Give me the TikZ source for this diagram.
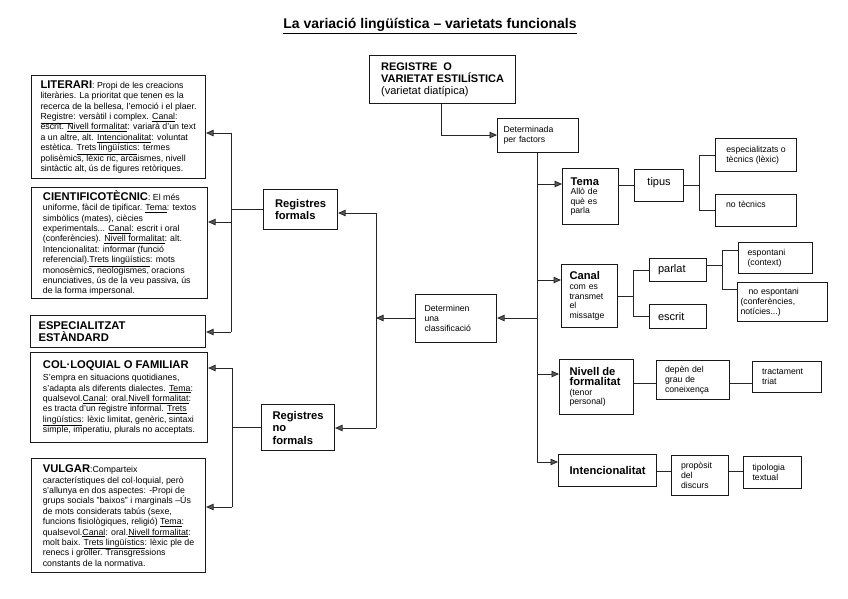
\documentclass[tikz,border=0pt]{standalone}
\usepackage{fontspec}
\setmainfont{Liberation Sans}
\usetikzlibrary{arrows.meta}
\newcommand\fBody{\fontsize{8.8}{10.4}\selectfont}
\newcommand\fHead{\fontsize{11.2}{12.5}\selectfont\bfseries}
\newcommand\fSmall{\fontsize{8.7}{10}\selectfont}
\newcommand\fMid{\fontsize{11}{12}\selectfont}
\newcommand\uln[1]{\underline{#1}}
\begin{document}
\begin{tikzpicture}[x=1pt,y=-1pt,
  box/.style={draw=black!90, line width=1.1pt, inner sep=0pt, anchor=north west, align=left},
  conn/.style={line width=0.8pt, draw=black!85},
  arr/.style={conn, -{Triangle[length=7.5pt,width=6.5pt,fill=black!65]}}]
\useasboundingbox (0,0) rectangle (848,599);
\fill[white] (0,0) rectangle (848,599);

\node (title) at (430,26) {\fontsize{14}{16}\selectfont\bfseries\underline{La variació lingüística – varietats funcionals}};

% ---------- left boxes ----------
\node[box, font=\fBody, minimum width=174pt, minimum height=103pt] (lit) at (31,75) {%
{\fHead LITERARI}: Propi de les creacions\\
literàries. La prioritat que tenen es la\\
recerca de la bellesa, l'emoció i el plaer.\\
\uln{Registre}: versàtil i complex. \uln{Canal}:\\
escrit. \uln{Nivell formalitat}: variarà d'un text\\
a un altre, alt. \uln{Intencionalitat}: voluntat\\
estètica. \uln{Trets lingüístics}: termes\\
polisèmics, lèxic ric, arcaismes, nivell\\
sintàctic alt, ús de figures retòriques.};

\node[box, font=\fBody, minimum width=176pt, minimum height=111pt] (cie) at (31,187) {%
{\fHead CIENTIFICOTÈCNIC}: El més\\
uniforme, fàcil de tipificar. \uln{Tema}: textos\\
simbòlics (mates), ciècies\\
experimentals... \uln{Canal}: escrit i oral\\
(conferències). \uln{Nivell formalitat}: alt.\\
Intencionalitat: informar (funció\\
referencial).\uln{Trets lingüístics}: mots\\
monosèmics, neologismes, oracions\\
enunciatives, ús de la veu passiva, ús\\
de la forma impersonal.};

\node[box, font=\fHead, minimum width=175pt, minimum height=32pt, text width=159pt] (esp) at (30,315) {ESPECIALITZAT\\ESTÀNDARD};

\node[box, font=\fBody, minimum width=177pt, minimum height=90pt] (col) at (30,352) {%
{\fHead COL·LOQUIAL O FAMILIAR}\\[2pt]
S'empra en situacions quotidianes,\\
s'adapta als diferents dialectes. \uln{Tema}:\\
qualsevol.\uln{Canal}: oral.\uln{Nivell formalitat}:\\
es tracta d'un registre informal. \uln{Trets}\\
\uln{lingüístics}: lèxic limitat, genèric, sintaxi\\
simple, imperatiu, plurals no acceptats.};

\node[box, font=\fBody, minimum width=174pt, minimum height=114pt] (vul) at (31,458) {%
{\fHead VULGAR}:Comparteix\\
característiques del col·loquial, però\\
s'allunya en dos aspectes: -Propi de\\
grups socials "baixos" i marginals –Ús\\
de mots considerats tabús (sexe,\\
funcions fisiològiques, religió) \uln{Tema}:\\
qualsevol.\uln{Canal}: oral.\uln{Nivell formalitat}:\\
molt baix. \uln{Trets lingüístics}: lèxic ple de\\
renecs i groller. Transgressions\\
constants de la normativa.};

% ---------- middle ----------
\node[box, font=\fHead, minimum width=74pt, minimum height=40pt] (regf) at (263,189) {Registres\\formals};
\node[box, font=\fHead, minimum width=73pt, minimum height=46pt] (regn) at (261,404) {Registres\\no\\formals};
\node[box, font=\fSmall, minimum width=81pt, minimum height=48pt, text width=63pt] (detn) at (415,294) {Determinen\\una\\classificació};

\node[box, font=\fMid, minimum width=146pt, minimum height=48pt] (reg) at (369,55) {{\bfseries REGISTRE\ \ O}\\{\bfseries VARIETAT ESTILÍSTICA}\\(varietat diatípica)};
\node[box, font=\fSmall, minimum width=81pt, minimum height=34pt, text width=69pt] (detf) at (497,118) {Determinada\\per factors};

% ---------- right ----------
\node[box, font=\fontsize{8.7}{9.3}\selectfont, minimum width=56pt, minimum height=56pt, text width=40pt] (tema) at (562,168) {{\fHead Tema}\\Allò de\\què es\\parla};
\node[box, font=\fMid, minimum width=49pt, minimum height=32pt, text depth=8pt] (tipus) at (634,169) {tipus};
\node[box, font=\fSmall, minimum width=81pt, minimum height=33pt] (espt) at (715,138) {especialitzats o\\tècnics (lèxic)};
\node[box, font=\fSmall, minimum width=81pt, minimum height=32pt, text width=60pt, text depth=12pt] (notec) at (715,194) {no tècnics};

\node[box, font=\fontsize{8.7}{9.7}\selectfont, minimum width=56pt, minimum height=63pt, text width=40pt] (canal) at (561,264) {{\fHead Canal}\\com es\\transmet\\el\\missatge};
\node[box, font=\fMid, minimum width=57pt, minimum height=23pt, text width=40pt] (parlat) at (649,258) {parlat};
\node[box, font=\fMid, minimum width=57pt, minimum height=24pt, text width=40pt] (escrit) at (649,304) {escrit};
\node[box, font=\fSmall, minimum width=74pt, minimum height=31pt, text width=56pt] (espon) at (738,242) {espontani\\(context)};
\node[box, font=\fSmall, minimum width=90pt, minimum height=39pt, text width=84pt] (noesp) at (737,282) {\hspace{8pt}no espontani\\(conferències,\\notícies...)};

\node[box, font=\fontsize{8.7}{9.7}\selectfont, minimum width=74pt, minimum height=55pt, text width=54pt] (niv) at (559,359) {{\fHead Nivell de}\\{\fHead formalitat}\\(tenor\\personal)};
\node[box, font=\fSmall, minimum width=73pt, minimum height=39pt, text width=56pt] (depen) at (656,360) {depèn del\\grau de\\coneixença};
\node[box, font=\fSmall, minimum width=69pt, minimum height=31pt, text width=50pt] (tract) at (752,361) {tractament\\triat};

\node[box, font=\fHead, minimum width=98pt, minimum height=32pt] (inten) at (558,454) {Intencionalitat};
\node[box, font=\fSmall, minimum width=57pt, minimum height=40pt, text width=38pt] (prop) at (671,455) {propòsit\\del\\discurs};
\node[box, font=\fSmall, minimum width=58pt, minimum height=32pt, text width=40pt] (tipol) at (743,456) {tipologia\\textual};

% ---------- connectors: left formal ----------
\coordinate (fA) at (231,133);
\coordinate (fB) at (231,222);
\coordinate (fC) at (231,332);
\draw[conn] (fA) -- (fC);
\draw[arr] (fA) -- (lit.east |- fA);
\draw[arr] (fB) -- (cie.east |- fB);
\draw[arr] (fC) -- (esp.east |- fC);
\draw[conn] (regf.west) -- (regf.west -| fA);

% ---------- left non formal ----------
\coordinate (nA) at (232,368);
\coordinate (nB) at (232,507);
\draw[conn] (nA) -- (nB);
\draw[arr] (nA) -- (col.east |- nA);
\draw[arr] (nB) -- (vul.east |- nB);
\draw[conn] (regn.west) -- (regn.west -| nA);

% ---------- middle vertical ----------
\coordinate (cT) at (376,213);
\coordinate (cM) at (376,318);
\coordinate (cB) at (376,428);
\draw[conn] (cT) -- (cB);
\draw[arr] (cT) -- (regf.east |- cT);
\draw[arr] (cB) -- (regn.east |- cB);
\draw[arr] (detn.west |- cM) -- (cM);

% ---------- top ----------
\coordinate (tA) at (441,135);
\draw[arr] (reg.south -| tA) -- (tA) -- (detf.west |- tA);

% ---------- right vertical ----------
\coordinate (r1) at (537,184);
\coordinate (r2) at (537,280);
\coordinate (rD) at (537,318);
\coordinate (r3) at (537,374);
\coordinate (r4) at (537,462);
\draw[conn] (detf.south -| r1) -- (r4);
\draw[arr] (r1) -- (tema.west |- r1);
\draw[arr] (r2) -- (canal.west |- r2);
\draw[arr] (r3) -- (niv.west |- r3);
\draw[arr] (r4) -- (inten.west |- r4);
\draw[arr] (rD) -- (detn.east |- rD);

% ---------- Tema branch ----------
\coordinate (s1) at (699,185);
\draw[conn] (tema.east |- s1) -- (tipus.west |- s1);
\draw[conn] (tipus.east |- s1) -- (s1);
\draw[conn] (espt.west) -- (espt.west -| s1) -- (notec.west -| s1) -- (notec.west);

% ---------- Canal branch ----------
\coordinate (s2) at (633,296);
\draw[conn] (canal.east |- s2) -- (s2);
\draw[conn] (parlat.west) -- (parlat.west -| s2) -- (escrit.west -| s2) -- (escrit.west);
\coordinate (pm) at (722,265);
\coordinate (e1) at (722,250);
\coordinate (e2) at (722,289);
\draw[conn] (parlat.east |- pm) -- (pm);
\draw[conn] (espon.west |- e1) -- (e1) -- (e2) -- (noesp.west |- e2);

% ---------- Nivell branch ----------
\coordinate (nl) at (640,383);
\draw[conn] (niv.east |- nl) -- (depen.west |- nl);
\draw[conn] (depen.east |- nl) -- (tract.west |- nl);

% ---------- Intencionalitat branch ----------
\coordinate (il) at (660,471);
\draw[conn] (inten.east |- il) -- (prop.west |- il);
\draw[conn] (prop.east |- il) -- (tipol.west |- il);
\end{tikzpicture}
\end{document}
